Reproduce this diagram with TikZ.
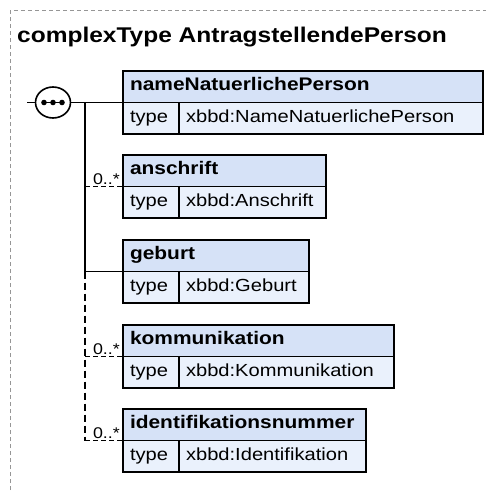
\documentclass[tikz,border=0pt]{standalone}
\usepackage{fontspec}
\newfontfamily\dgmfont[FakeStretch=1.15]{Liberation Sans}
\usetikzlibrary{positioning,shapes.geometric,shadows}

\definecolor{hdrblue}{RGB}{214,226,247}
\definecolor{typblue}{RGB}{234,241,252}
\definecolor{framegray}{RGB}{150,150,150}

\tikzset{
  boxbase/.style={draw, line width=1.8pt, anchor=north west, minimum height=31.5pt,
    inner xsep=7pt, inner ysep=0pt, outer sep=0pt, text height=12.5pt, text depth=4.6pt,
    align=left, drop shadow={shadow xshift=1.4pt, shadow yshift=-1.4pt, fill=black!30, opacity=1}},
  hdrbox/.style={boxbase, fill=hdrblue, font=\dgmfont\bfseries\fontsize{18.2}{21}\selectfont},
  typbox/.style={boxbase, fill=typblue, font=\dgmfont\fontsize{17.5}{20}\selectfont},
  titletext/.style={font=\dgmfont\bfseries\fontsize{21.3}{25}\selectfont, inner sep=0pt},
  multlabel/.style={font=\dgmfont\fontsize{15.5}{18}\selectfont, inner sep=0pt},
  seqnode/.style={draw, ellipse, line width=1.6pt, fill=white, minimum width=35pt, minimum height=31pt, inner sep=0pt},
  conn/.style={line width=1.6pt},
  trunkline/.style={line width=2pt},
  optconn/.style={line width=1.4pt, dash pattern=on 5pt off 3pt},
  opttrunk/.style={line width=2pt, dash pattern=on 7pt off 4pt},
  framedash/.style={draw=framegray, line width=1pt, dash pattern=on 4pt off 3pt}
}

% element box: name, top, width, element name, type name
\newcommand\xsdelem[5]{%
  \pgfmathsetmacro\hdrtw{#3-14}%
  \pgfmathsetmacro\valw{#3-56}%
  \pgfmathsetmacro\valtw{#3-70}%
  \node[hdrbox, minimum width=#3pt, text width=\hdrtw pt] (#1) at (123,#2) {#4};
  \node[typbox, minimum width=56pt, text width=42pt] (#1t) at (#1.south west) {type};
  \node[typbox, minimum width=\valw pt, text width=\valtw pt] (#1v) at (#1t.north east) {#5};
}

\begin{document}
\begin{tikzpicture}[x=1pt, y=-1pt]
  \useasboundingbox (0,0) rectangle (485,492);

  % frame and title
  \draw[framedash] (10,497) -- (10,11) -- (490,11);
  \node[titletext, anchor=base west] (title) at (17,43) {complexType AntragstellendePerson};

  % elements
  \xsdelem{name}{71}{360}{nameNatuerlichePerson}{xbbd:NameNatuerlichePerson}
  \xsdelem{ans}{155}{203}{anschrift}{xbbd:Anschrift}
  \xsdelem{geb}{240}{186}{geburt}{xbbd:Geburt}
  \xsdelem{komm}{325}{271}{kommunikation}{xbbd:Kommunikation}
  \xsdelem{ident}{409}{243}{identifikationsnummer}{xbbd:Identifikation}

  % sequence compositor
  \coordinate (stub) at (27,102.5);
  \coordinate (trunk) at (85,102.5);
  \node[seqnode] (seq) at (53,102.5) {};
  \draw[conn] (stub) -- (seq.west);
  \draw[conn] (seq.east) -- (name.south west);
  \draw[conn] ([xshift=-9pt]seq.center) -- ([xshift=9pt]seq.center);
  \foreach \dx in {-9,0,9}
    \fill ([xshift=\dx pt]seq.center) circle (2.8);

  % trunk
  \draw[trunkline] (trunk) -- (trunk |- geb.south west);
  \draw[opttrunk] (trunk |- geb.south west) -- (trunk |- ident.south west);

  % branches
  \draw[conn] (trunk |- geb.south west) -- (geb.south west);
  \foreach \el/\lbl in {ans/mans, komm/mkomm, ident/mident} {
    \draw[optconn] (trunk |- \el.south west) -- (\el.south west);
    \node[multlabel, anchor=base east] (\lbl) at ([xshift=-3pt, yshift=2pt]\el.south west) {0..*};
  }
\end{tikzpicture}
\end{document}
